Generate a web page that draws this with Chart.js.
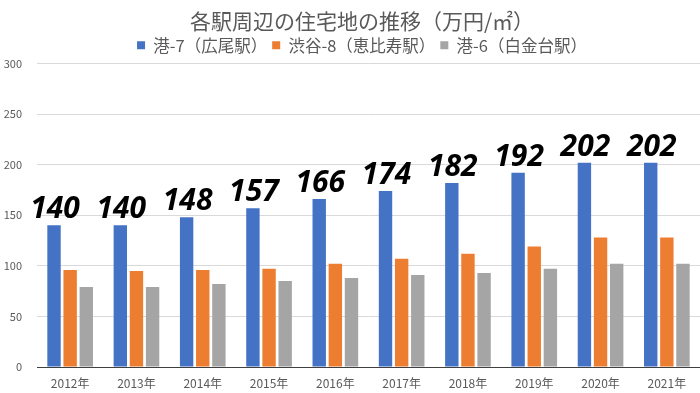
<!DOCTYPE html>
<html><head><meta charset="utf-8">
<script src="https://cdn.jsdelivr.net/npm/chart.js@4"></script>
<style>html,body{margin:0;padding:0;background:#fff;}#wrap{width:700px;height:393px;}</style>
</head><body><div id="wrap"><canvas id="c" width="700" height="393"></canvas></div>
<script>
const categories = ['2012年','2013年','2014年','2015年','2016年','2017年','2018年','2019年','2020年','2021年'];
const hiroo = [140,140,148,157,166,174,182,192,202,202];
const ebisu = [96,95,96,97,102,107,112,119,128,128];
const shirokane = [79,79,82,85,88,91,93,97,102,102];
const seriesNames = ['港-7（広尾駅）','渋谷-8（恵比寿駅）','港-6（白金台駅）'];
const titleText = '各駅周辺の住宅地の推移（万円/㎡）';
const yTicks = [0,50,100,150,200,250,300];

const JP = '"Noto Sans CJK JP","Noto Sans",sans-serif';

const valueLabels = {
  id:'valueLabels',
  afterDatasetsDraw(chart){
    const ctx = chart.ctx;
    const meta = chart.getDatasetMeta(0);
    ctx.save();
    ctx.font = 'italic bold 30px "Noto Sans","Open Sans",sans-serif';
    ctx.fillStyle = '#000';
    ctx.textAlign = 'center';
    ctx.textBaseline = 'alphabetic';
    meta.data.forEach((bar,i)=>{
      ctx.fillText(String(hiroo[i]), bar.x + 1, bar.y - 7);
    });
    ctx.restore();
  }
};

// shift the title and legend block to the right, as in the reference
const headerShift = {
  id:'headerShift',
  afterLayout(chart){
    if (chart.titleBlock) chart.titleBlock.left += 24;
    if (chart.legend) chart.legend.left += 24;
  }
};

new Chart(document.getElementById('c'), {
  type:'bar',
  data:{
    labels:categories,
    datasets:[
      {label:seriesNames[0], data:hiroo, backgroundColor:'#4472C4'},
      {label:seriesNames[1], data:ebisu, backgroundColor:'#ED7D31'},
      {label:seriesNames[2], data:shirokane, backgroundColor:'#A5A5A5'}
    ]
  },
  options:{
    responsive:false,
    animation:false,
    layout:{padding:{left:0,right:0,top:0,bottom:0}},
    datasets:{bar:{barPercentage:0.83, categoryPercentage:0.73}},
    plugins:{
      title:{display:true, text:titleText, color:'#595959', font:{family:JP, size:21, weight:'normal', lineHeight:1.0}, padding:{top:11,bottom:0}},
      legend:{display:true, labels:{color:'#595959', font:{family:JP, size:16.5}, boxWidth:8, boxHeight:8, padding:5}},
      tooltip:{enabled:false}
    },
    scales:{
      x:{
        afterFit(axis){ axis.height = 26; },
        grid:{display:false, drawTicks:false},
        border:{display:true, color:'#404040', width:1},
        ticks:{color:'#595959', font:{family:JP, size:12}, padding:9}
      },
      y:{
        min:0, max:300,
        afterFit(axis){ axis.width = 37; },
        afterBuildTicks(axis){ axis.ticks = yTicks.map(v=>({value:v})); },
        grid:{color:'#D9D9D9', drawTicks:false},
        border:{display:false},
        ticks:{color:'#595959', font:{family:JP, size:11}, padding:15}
      }
    }
  },
  plugins:[valueLabels, headerShift]
});
</script></body></html>
